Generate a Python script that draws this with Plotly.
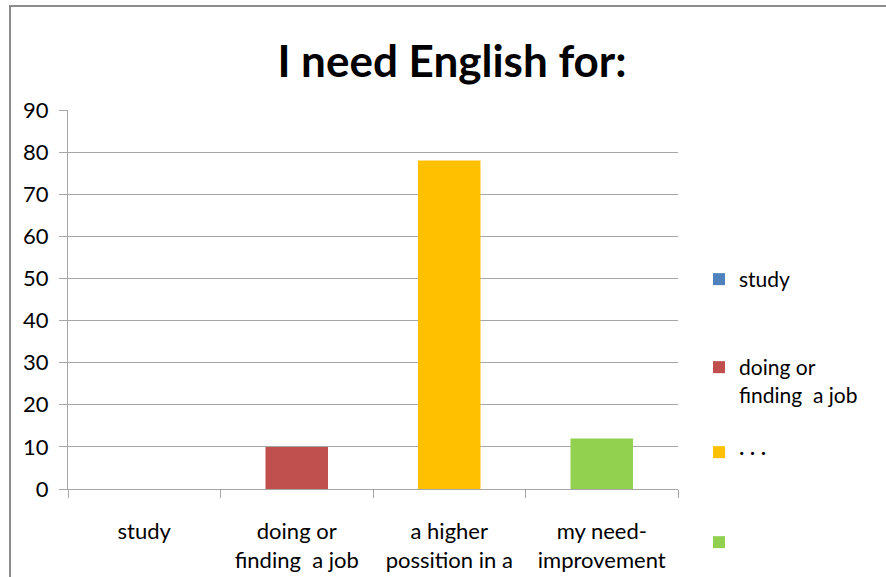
import plotly.graph_objects as go

# Survey answers: what the respondents need English for
categories = ["study", "doing or<br>finding  a job", "a higher<br>possition in a", "my need-<br>improvement"]
values = [0, 10, 78, 12]
legend_names = ["study", "doing or<br>finding  a job", "· · ·", " "]
colors = ["#4F81BD", "#C0504D", "#FFC000", "#92D050"]
y_ticks = [0, 10, 20, 30, 40, 50, 60, 70, 80, 90]

W, H = 886, 577
ML, MR, MT, MB = 68, 208, 110, 88
PW, PH = W - ML - MR, H - MT - MB

FONT = "Lato, Open Sans, sans-serif"
GRID = "#a6a6a6"


def px_to_paper_x(px):
    return (px - ML) / PW


def px_to_paper_y(py):
    return (H - MB - py) / PH


# one separate legend per series so each entry sits at its own height
legend_tops = [259, 347, 432, 522]
legend_keys = ["legend", "legend2", "legend3", "legend4"]

fig = go.Figure()
for i, (cat, val, nm, col) in enumerate(zip(categories, values, legend_names, colors)):
    fig.add_trace(go.Bar(
        x=[cat], y=[val], name=nm,
        marker=dict(color=col, line=dict(width=0)),
        width=0.41,
        legend=legend_keys[i],
        showlegend=True,
    ))

legend_layout = {}
for key, top in zip(legend_keys, legend_tops):
    legend_layout[key] = dict(
        x=px_to_paper_x(699), xanchor="left",
        y=px_to_paper_y(top), yanchor="top",
        font=dict(family=FONT, size=21, color="#000000"),
        bgcolor="rgba(0,0,0,0)", borderwidth=0,
        valign="top", itemwidth=30,
    )

fig.update_layout(
    width=W, height=H,
    margin=dict(l=ML, r=MR, t=MT, b=MB, pad=0, autoexpand=False),
    paper_bgcolor="white", plot_bgcolor="white",
    barmode="overlay",
    title=dict(
        text="<b>I need English for:</b>",
        x=452 / W, xanchor="center", xref="container",
        y=1 - 62 / H, yanchor="middle", yref="container",
        font=dict(family=FONT, size=44, color="#000000"),
        automargin=False,
    ),
    xaxis=dict(
        categoryorder="array", categoryarray=categories,
        showline=True, linecolor=GRID, linewidth=1,
        ticks="outside", tickson="boundaries", ticklen=8, tickcolor=GRID,
        showgrid=False, zeroline=False, automargin=False,
        tickfont=dict(family=FONT, size=22, color="#000000"),
        ticklabelstandoff=23,
    ),
    yaxis=dict(
        range=[0, 90], tickvals=y_ticks,
        showline=True, linecolor=GRID, linewidth=1,
        ticks="outside", ticklen=8, tickcolor=GRID,
        showgrid=True, gridcolor=GRID, gridwidth=1,
        zeroline=False, automargin=False,
        tickfont=dict(family=FONT, size=22, color="#000000"),
        ticklabelstandoff=6,
    ),
    shapes=[dict(
        type="rect", xref="paper", yref="paper",
        x0=px_to_paper_x(10), x1=px_to_paper_x(W + 20),
        y0=px_to_paper_y(H + 20), y1=px_to_paper_y(6),
        line=dict(color="#8c8c8c", width=2), fillcolor="rgba(0,0,0,0)",
        layer="below",
    )],
    **legend_layout,
)

fig.write_html("out.html")
